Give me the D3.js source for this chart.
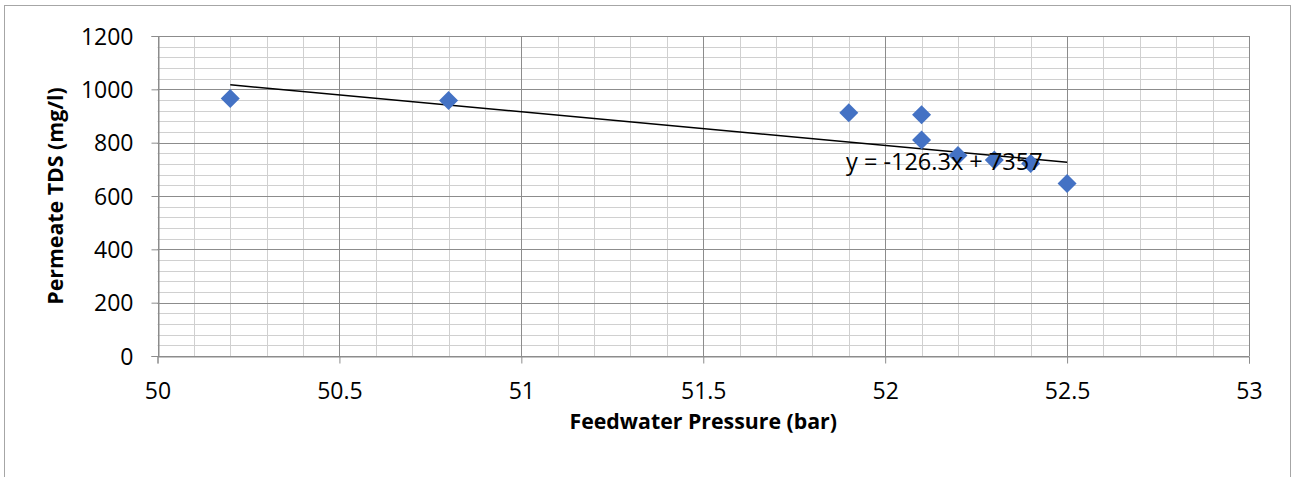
<!DOCTYPE html>
<html>
<head>
<meta charset="utf-8">
<script src="https://cdn.jsdelivr.net/npm/d3@7"></script>
<style>
html,body{margin:0;padding:0;background:#fff;}
svg{display:block;}
text{font-family:"Open Sans",sans-serif;fill:#000;}
</style>
</head>
<body>
<svg id="chart" width="1292" height="477"></svg>
<script>
// Data
const pressure = [50.2, 50.8, 51.9, 52.1, 52.1, 52.2, 52.3, 52.4, 52.5];
const tds      = [966, 958, 912, 905, 810, 752, 735, 722, 647];
const trendSlope = -126.3;
const trendIntercept = 7357;
const trendLabel = "y = -126.3x + 7357";
const xTicks = [50, 50.5, 51, 51.5, 52, 52.5, 53];
const yTicks = [0, 200, 400, 600, 800, 1000, 1200];
const xTitle = "Feedwater Pressure (bar)";
const yTitle = "Permeate TDS (mg/l)";

const svg = d3.select("#chart");
const L = 157.5, R = 1249, T = 36, B = 356;
const x = d3.scaleLinear().domain([50, 53]).range([L, R]);
const y = d3.scaleLinear().domain([0, 1200]).range([B, T]);

// outer border
svg.append("rect").attr("x", 4.5).attr("y", 5.5).attr("width", 1286).attr("height", 480)
  .attr("fill", "none").attr("stroke", "#a6a6a6").attr("stroke-width", 1);

const g = svg.append("g");
// minor gridlines
const xMinor = d3.range(0, 31).map(i => 50 + i * 0.1);
const yMinor = d3.range(0, 31).map(i => i * 40);
g.selectAll(".xm").data(xMinor).enter().append("line")
  .attr("x1", d => Math.round(x(d)) + 0.5).attr("x2", d => Math.round(x(d)) + 0.5)
  .attr("y1", T).attr("y2", B).attr("stroke", "#d0d0d0");
g.selectAll(".ym").data(yMinor).enter().append("line")
  .attr("y1", d => Math.round(y(d)) + 0.5).attr("y2", d => Math.round(y(d)) + 0.5)
  .attr("x1", L).attr("x2", R).attr("stroke", "#d0d0d0");
// major gridlines
g.selectAll(".xM").data(xTicks).enter().append("line")
  .attr("x1", d => Math.round(x(d)) + 0.5).attr("x2", d => Math.round(x(d)) + 0.5)
  .attr("y1", T).attr("y2", B).attr("stroke", "#8c8c8c");
g.selectAll(".yM").data(yTicks).enter().append("line")
  .attr("y1", d => Math.round(y(d)) + 0.5).attr("y2", d => Math.round(y(d)) + 0.5)
  .attr("x1", L).attr("x2", R).attr("stroke", "#8c8c8c");

// axes
const xAxis = svg.append("g").attr("transform", `translate(0,${Math.round(B) + 0.5})`)
  .call(d3.axisBottom(x).tickValues(xTicks).tickSize(7).tickPadding(19).tickFormat(d3.format("")));
const yAxis = svg.append("g").attr("transform", `translate(${Math.round(L) + 0.5},0)`)
  .call(d3.axisLeft(y).tickValues(yTicks).tickSize(7).tickPadding(18).tickFormat(d3.format("")));
[xAxis, yAxis].forEach(a => {
  a.select(".domain").attr("stroke", "#8c8c8c");
  a.selectAll(".tick line").attr("stroke", "#8c8c8c");
  a.selectAll(".tick text").attr("font-family", "Open Sans").attr("font-size", 23).attr("fill", "#000");
});
yAxis.selectAll(".tick text").attr("dy", "0.35em");

// trendline
const tx = d3.extent(pressure);
svg.append("line")
  .attr("x1", x(tx[0])).attr("y1", y(trendSlope * tx[0] + trendIntercept))
  .attr("x2", x(tx[1])).attr("y2", y(trendSlope * tx[1] + trendIntercept))
  .attr("stroke", "#000").attr("stroke-width", 1.5);

// markers
const pts = pressure.map((p, i) => [p, tds[i]]);
svg.selectAll(".pt").data(pts).enter().append("path")
  .attr("transform", d => `translate(${x(d[0])},${y(d[1])})`)
  .attr("d", "M0,-9.5L9.5,0L0,9.5L-9.5,0Z")
  .attr("fill", "#4472C4");

// trendline label
svg.append("text").attr("x", 846).attr("y", 169.5)
  .attr("font-size", 23.5).text(trendLabel);

// axis titles
svg.append("text").attr("x", (L + R) / 2).attr("y", 428.5).attr("text-anchor", "middle")
  .attr("font-size", 21.3).attr("font-weight", "bold").text(xTitle);
svg.append("text").attr("transform", `translate(63,${(T + B) / 2}) rotate(-90)`)
  .attr("text-anchor", "middle").attr("font-size", 21.3).attr("font-weight", "bold").text(yTitle);
</script>
</body>
</html>
